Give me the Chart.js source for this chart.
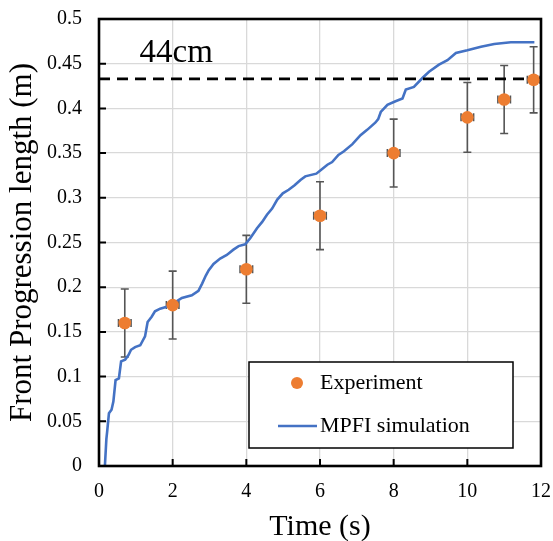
<!DOCTYPE html>
<html>
<head>
<meta charset="utf-8">
<script src="https://cdn.jsdelivr.net/npm/chart.js@4/dist/chart.umd.min.js"></script>
<style>
  html, body { margin: 0; padding: 0; background: #fff; }
  #wrap { position: relative; width: 553px; height: 541px; }
</style>
</head>
<body>
<div id="wrap"><canvas id="myChart"></canvas></div>
<script>
// experiment points with error bars
const expTime = [0.7, 2, 4, 6, 8, 10, 11, 11.8];
const expLength = [0.16, 0.18, 0.22, 0.28, 0.35, 0.39, 0.41, 0.432];
const expError = [0.038, 0.038, 0.038, 0.038, 0.038, 0.039, 0.038, 0.037];
const expTimeError = [0.17, 0.17, 0.17, 0.17, 0.17, 0.17, 0.17, 0.17];

// MPFI simulation curve
const simTime = [0.16, 0.20, 0.22, 0.27, 0.34, 0.39, 0.45, 0.54, 0.60, 0.71, 0.80, 0.87, 0.98, 1.12, 1.25, 1.32,
  1.43, 1.52, 1.66, 1.84, 2.02, 2.25, 2.52, 2.70, 2.80, 2.90, 2.98, 3.11, 3.29, 3.47, 3.65, 3.79, 3.97, 4.11,
  4.29, 4.43, 4.56, 4.70, 4.84, 4.99, 5.15, 5.31, 5.47, 5.60, 5.90, 6.05, 6.20, 6.33, 6.50, 6.65, 6.88, 7.10,
  7.28, 7.50, 7.58, 7.65, 7.83, 8.05, 8.24, 8.33, 8.55, 8.78, 8.96, 9.23, 9.46, 9.69, 10.0, 10.37, 10.73, 11.18, 11.82];
const simLength = [0, 0.030, 0.038, 0.059, 0.063, 0.072, 0.096, 0.098, 0.117, 0.119, 0.124, 0.130, 0.133, 0.135, 0.145, 0.161,
  0.167, 0.173, 0.176, 0.178, 0.182, 0.188, 0.191, 0.196, 0.204, 0.213, 0.219, 0.226, 0.232, 0.236, 0.242, 0.246, 0.248, 0.255,
  0.266, 0.273, 0.281, 0.288, 0.298, 0.305, 0.309, 0.314, 0.320, 0.324, 0.327, 0.332, 0.337, 0.340, 0.348, 0.352, 0.360, 0.370,
  0.376, 0.384, 0.388, 0.396, 0.404, 0.408, 0.411, 0.421, 0.424, 0.434, 0.441, 0.449, 0.454, 0.462, 0.465, 0.469, 0.472, 0.474, 0.474];

// 44 cm reference line
const targetLength = 0.433;
const targetLabel = '44cm';

const xTicks = [0, 2, 4, 6, 8, 10, 12];
const xTickLabels = ['0', '2', '4', '6', '8', '10', '12'];
const yTicks = [0, 0.05, 0.1, 0.15, 0.2, 0.25, 0.3, 0.35, 0.4, 0.45, 0.5];
const yTickLabels = ['0', '0.05', '0.1', '0.15', '0.2', '0.25', '0.3', '0.35', '0.4', '0.45', '0.5'];

const SERIF = '"Liberation Serif", "Times New Roman", serif';
Chart.defaults.font.family = SERIF;
Chart.defaults.color = '#000';

// keep tick label overhang from pushing the plot area in
const noScalePadding = s => {
  s.paddingLeft = 0; s.paddingRight = 0; s.paddingTop = 0; s.paddingBottom = 0;
};

const errorBars = {
  id: 'errorBars',
  beforeDatasetsDraw(chart) {
    const {ctx, scales: {x, y}} = chart;
    ctx.save();
    ctx.strokeStyle = '#555';
    ctx.lineWidth = 1.6;
    expTime.forEach((t, i) => {
      const px = x.getPixelForValue(t);
      const py = y.getPixelForValue(expLength[i]);
      const top = y.getPixelForValue(expLength[i] + expError[i]);
      const bot = y.getPixelForValue(expLength[i] - expError[i]);
      const xl = x.getPixelForValue(t - expTimeError[i]);
      const xr = x.getPixelForValue(t + expTimeError[i]);
      ctx.beginPath();
      ctx.moveTo(px, top); ctx.lineTo(px, bot);
      ctx.moveTo(px - 4, top); ctx.lineTo(px + 4, top);
      ctx.moveTo(px - 4, bot); ctx.lineTo(px + 4, bot);
      ctx.moveTo(xl, py); ctx.lineTo(xr, py);
      ctx.moveTo(xl, py - 4); ctx.lineTo(xl, py + 4);
      ctx.moveTo(xr, py - 4); ctx.lineTo(xr, py + 4);
      ctx.stroke();
    });
    ctx.restore();
  }
};

const frameAndLegend = {
  id: 'frameAndLegend',
  afterDraw(chart) {
    const {ctx, chartArea: a, scales: {x, y}} = chart;
    ctx.save();
    // inner tick marks
    ctx.strokeStyle = '#000';
    ctx.lineWidth = 2;
    ctx.beginPath();
    xTicks.forEach(v => {
      const px = x.getPixelForValue(v);
      ctx.moveTo(px, a.bottom); ctx.lineTo(px, a.bottom - 7);
    });
    yTicks.forEach(v => {
      const py = y.getPixelForValue(v);
      ctx.moveTo(a.left, py); ctx.lineTo(a.left + 7, py);
    });
    ctx.stroke();
    // frame
    ctx.lineWidth = 2.6;
    ctx.strokeRect(a.left, a.top, a.right - a.left, a.bottom - a.top);

    // 44cm label
    ctx.fillStyle = '#000';
    ctx.font = '33px ' + SERIF;
    ctx.textAlign = 'left';
    ctx.textBaseline = 'alphabetic';
    ctx.fillText(targetLabel, x.getPixelForValue(1.1), y.getPixelForValue(0.4516));

    // legend box
    const bx = a.left + 150, by = a.bottom - 104, bw = 264, bh = 86;
    ctx.fillStyle = '#fff';
    ctx.fillRect(bx, by, bw, bh);
    ctx.strokeStyle = '#000';
    ctx.lineWidth = 1.5;
    ctx.strokeRect(bx, by, bw, bh);
    const ds = chart.data.datasets;
    ctx.font = '22px ' + SERIF;
    ctx.textBaseline = 'middle';
    // experiment
    ctx.fillStyle = ds[0].backgroundColor;
    ctx.beginPath();
    ctx.arc(bx + 48, by + 21, 6, 0, Math.PI * 2);
    ctx.fill();
    ctx.fillStyle = '#000';
    ctx.fillText(ds[0].label, bx + 71, by + 21);
    // simulation
    ctx.strokeStyle = ds[1].borderColor;
    ctx.lineWidth = 2.5;
    ctx.beginPath();
    ctx.moveTo(bx + 29, by + 64); ctx.lineTo(bx + 68, by + 64);
    ctx.stroke();
    ctx.fillText(ds[1].label, bx + 71, by + 64);
    ctx.restore();
  }
};

const ctx = document.getElementById('myChart');
const myChart = new Chart(ctx, {
  type: 'scatter',
  data: {
    datasets: [
      {
        label: 'Experiment',
        data: expTime.map((t, i) => ({x: t, y: expLength[i]})),
        backgroundColor: '#ED7D31',
        borderColor: '#ED7D31',
        pointRadius: 6.3,
        pointBorderWidth: 0,
        order: 0
      },
      {
        label: 'MPFI simulation',
        data: simTime.map((t, i) => ({x: t, y: simLength[i]})),
        showLine: true,
        borderColor: '#4472C4',
        backgroundColor: '#4472C4',
        borderWidth: 2.6,
        pointRadius: 0,
        tension: 0,
        order: 2
      },
      {
        label: targetLabel,
        data: [{x: 0, y: targetLength}, {x: 12, y: targetLength}],
        showLine: true,
        borderColor: '#000',
        borderWidth: 2.6,
        borderDash: [11, 7],
        pointRadius: 0,
        order: 1
      }
    ]
  },
  options: {
    responsive: true,
    maintainAspectRatio: false,
    animation: false,
    devicePixelRatio: 1,
    layout: {padding: {top: 19, right: 12, left: 0, bottom: 0}},
    plugins: {legend: {display: false}, tooltip: {enabled: false}},
    scales: {
      x: {
        type: 'linear',
        min: 0,
        max: 12,
        afterBuildTicks: s => { s.ticks = xTicks.map(v => ({value: v})); },
        afterFit: s => { s.height = 75; noScalePadding(s); },
        ticks: {
          callback: (v, i) => xTickLabels[i],
          font: {size: 20},
          color: '#000',
          padding: 14,
          maxRotation: 0
        },
        grid: {color: '#d9d9d9', lineWidth: 1.3, drawTicks: false},
        border: {display: false},
        title: {
          display: true,
          text: 'Time (s)',
          color: '#000',
          font: {size: 30, lineHeight: 0.94},
          padding: 0
        }
      },
      y: {
        type: 'linear',
        min: 0,
        max: 0.5,
        afterBuildTicks: s => { s.ticks = yTicks.map(v => ({value: v})); },
        afterFit: s => { s.width = 99; noScalePadding(s); },
        ticks: {
          callback: (v, i) => yTickLabels[i],
          font: {size: 20},
          color: '#000',
          padding: 17
        },
        grid: {color: '#d9d9d9', lineWidth: 1.3, drawTicks: false},
        border: {display: false},
        title: {
          display: true,
          text: 'Front Progression length (m)',
          color: '#000',
          font: {size: 31, lineHeight: 1.2},
          padding: {top: 4, bottom: 0}
        }
      }
    }
  },
  plugins: [errorBars, frameAndLegend]
});
</script>
</body>
</html>
